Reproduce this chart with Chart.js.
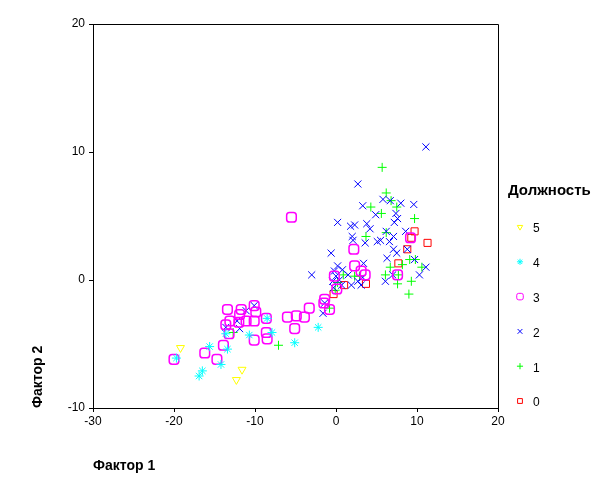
<!DOCTYPE html>
<html lang="ru">
<head>
<meta charset="UTF-8">
<title>Фактор 1 / Фактор 2 по должностям</title>
<script src="https://cdn.jsdelivr.net/npm/chart.js"></script>
<style>
    html, body { margin: 0; padding: 0; background: #fff; }
    canvas { display: block; }
</style>
</head>
<body>
<canvas id="scatter" width="612" height="492"></canvas>
<script>
    // legend / dataset order as in the picture: 5 at top, 0 at bottom
    const categories = ["5", "4", "3", "2", "1", "0"];
    const xTicks = [-30, -20, -10, 0, 10, 20];
    const yTicks = [-10, 0, 10, 20];

    // [Фактор 1, Фактор 2] per group
    const pos5 = [[-19.2,-5.3],[-11.6,-7.0],[-12.3,-7.8]];
    const pos4 = [[-19.7,-6.1],[-15.6,-5.2],[-13.4,-5.4],[-14.2,-6.6],[-16.5,-7.1],[-16.9,-7.5],
        [-13.6,-4.2],[-10.7,-4.3],[-8.5,-3.0],[-7.9,-4.1],[-5.1,-4.9],[-2.2,-3.7]];
    const pos3 = [[-20.0,-6.2],[-16.2,-5.7],[-14.7,-6.2],[-13.9,-5.1],[-13.2,-4.2],[-13.6,-3.5],
        [-13.1,-3.2],[-13.4,-2.3],[-11.7,-2.3],[-11.9,-2.7],[-12.0,-3.3],[-11.1,-3.2],[-10.1,-2.0],
        [-9.9,-2.5],[-10.1,-3.2],[-10.1,-4.7],[-8.6,-3.0],[-8.6,-4.1],[-8.5,-4.6],[-6.0,-2.9],
        [-4.9,-2.8],[-3.9,-2.9],[-5.1,-3.8],[-3.3,-2.2],[-1.5,-1.8],[-0.8,-2.3],[-5.5,4.9],
        [-1.4,-1.5],[-0.2,0.3],[0.1,-0.7],[2.2,2.4],[2.3,1.1],[3.1,0.7],[3.6,0.4],[7.6,0.4],[9.2,3.3]];
    const pos2 = [[11.1,10.4],[2.7,7.5],[3.3,5.8],[5.8,6.3],[6.7,6.2],[8.0,6.0],[9.6,5.9],[4.9,5.1],
        [7.4,5.2],[7.6,4.8],[7.2,4.5],[0.2,4.5],[1.8,4.2],[2.3,4.3],[3.8,4.4],[4.2,4.0],[6.2,3.8],
        [8.6,3.8],[2.0,3.4],[2.1,3.1],[3.6,2.9],[5.1,3.0],[5.5,3.1],[6.6,3.0],[7.1,3.4],[7.1,2.4],
        [7.5,2.1],[8.8,2.4],[-0.6,2.1],[6.3,1.7],[9.7,1.6],[11.1,1.0],[3.4,1.3],[-3.0,0.4],[7.0,0.4],
        [10.3,0.4],[6.1,-0.1],[-0.2,0.7],[0.8,0.8],[0.0,0.3],[0.4,0.0],[-0.4,-0.1],[1.5,0.4],
        [3.3,0.2],[2.7,-0.1],[3.1,-0.4],[1.9,-0.4],[-0.3,-0.6],[0.2,1.1],[0.7,-0.4],[-1.6,-2.6],
        [-1.4,-1.8],[-10.1,-2.0],[-11.1,-2.4],[-12.2,-3.2],[-11.9,-3.8],[-13.6,-3.7]];
    const pos1 = [[5.7,8.8],[6.2,6.8],[6.8,6.2],[4.3,5.7],[7.5,5.7],[5.6,5.2],[9.7,4.8],[3.7,3.4],
        [6.2,3.7],[9.1,1.6],[9.8,1.6],[6.7,1.0],[8.2,1.2],[10.6,1.0],[6.1,0.4],[7.7,0.4],[9.3,-0.1],
        [7.6,-0.3],[9.0,-1.1],[2.9,0.3],[2.3,0.3],[0.9,0.4],[0.2,-0.2],[-0.1,-0.8],[-0.8,-2.2],
        [-12.7,-4.1],[-7.1,-5.1]];
    const pos0 = [[9.7,3.8],[9.3,3.3],[11.3,2.9],[8.8,2.4],[7.7,1.3],[3.7,-0.3],[1.0,-0.4],[-0.3,-1.1]];

    const groups = [pos5, pos4, pos3, pos2, pos1, pos0];
    const colors = ["#ffff00", "#00ffff", "#ff00ff", "#0000ff", "#00ff00", "#ff0000"];
    const styles = ["triangle", "star", "rectRounded", "crossRot", "cross", "rect"];
    const radii = [4.6, 4.5, 5.6, 5, 4.5, 5];
    const FONT = '"Liberation Sans", Arial, sans-serif';

    const datasets = groups.map((pts, i) => ({
        label: categories[i],
        data: pts.map(p => ({ x: p[0], y: p[1] })),
        pointStyle: styles[i],
        pointRadius: radii[i],
        pointRotation: i === 0 ? 180 : 0,
        borderColor: colors[i],
        backgroundColor: "rgba(0,0,0,0)",
        pointBorderWidth: i === 2 ? 1.5 : 1,
        showLine: false
    }));

    // box round the plot area (top and right sides)
    const framePlugin = {
        id: "frame",
        afterDatasetsDraw(chart) {
            const a = chart.chartArea, ctx = chart.ctx;
            ctx.save();
            ctx.strokeStyle = "#000";
            ctx.lineWidth = 1;
            ctx.beginPath();
            ctx.moveTo(Math.round(a.left), Math.round(a.top) + 0.5);
            ctx.lineTo(Math.round(a.right) + 0.5, Math.round(a.top) + 0.5);
            ctx.lineTo(Math.round(a.right) + 0.5, Math.round(a.bottom));
            ctx.stroke();
            ctx.restore();
        }
    };

    // legend on the right, drawn with the library's own point shapes
    const legendPlugin = {
        id: "sideLegend",
        afterDraw(chart) {
            const ctx = chart.ctx;
            ctx.save();
            ctx.fillStyle = "#000";
            ctx.textBaseline = "middle";
            ctx.font = "bold 15px " + FONT;
            ctx.fillText("Должность", 508, 191);
            chart.data.datasets.forEach((ds, i) => {
                const y = 229 + i * 34.8;
                ctx.fillStyle = "rgba(0,0,0,0)";
                ctx.strokeStyle = ds.borderColor;
                ctx.lineWidth = 1;
                Chart.helpers.drawPoint(ctx, {
                    pointStyle: ds.pointStyle,
                    radius: ds.pointRadius * 0.68,
                    rotation: ds.pointRotation,
                    borderWidth: 1
                }, 520, y - 2);
                ctx.fillStyle = "#000";
                ctx.font = "12px " + FONT;
                ctx.fillText(ds.label, 533, y);
            });
            ctx.restore();
        }
    };

    new Chart(document.getElementById("scatter"), {
        type: "scatter",
        data: { datasets },
        options: {
            responsive: false,
            animation: false,
            layout: { padding: { top: 24, right: 114, bottom: 0, left: 0 } },
            plugins: { legend: { display: false }, tooltip: { enabled: false } },
            scales: {
                x: {
                    type: "linear",
                    min: -30,
                    max: 20,
                    afterBuildTicks: s => { s.ticks = xTicks.map(v => ({ value: v })); },
                    afterFit: s => { s.height = 84; },
                    grid: { drawOnChartArea: false, drawTicks: true, tickLength: 4, color: "#000" },
                    border: { display: true, color: "#000", width: 1 },
                    ticks: { color: "#000", font: { family: FONT, size: 12 }, padding: 2, maxRotation: 0 },
                    title: {
                        display: true, text: "Фактор 1", align: "start", color: "#000",
                        font: { family: FONT, size: 14, weight: "bold" },
                        padding: { top: 0, bottom: 17 }
                    }
                },
                y: {
                    type: "linear",
                    min: -10,
                    max: 20,
                    afterBuildTicks: s => { s.ticks = yTicks.map(v => ({ value: v })); },
                    afterFit: s => { s.width = 93; },
                    grid: { drawOnChartArea: false, drawTicks: true, tickLength: 4, color: "#000" },
                    border: { display: true, color: "#000", width: 1 },
                    ticks: { color: "#000", font: { family: FONT, size: 12 }, padding: 4 },
                    title: {
                        display: true, text: "Фактор 2", align: "start", color: "#000",
                        font: { family: FONT, size: 14, weight: "bold" },
                        padding: { top: 30, bottom: 0 }
                    }
                }
            }
        },
        plugins: [framePlugin, legendPlugin]
    });
</script>
</body>
</html>
